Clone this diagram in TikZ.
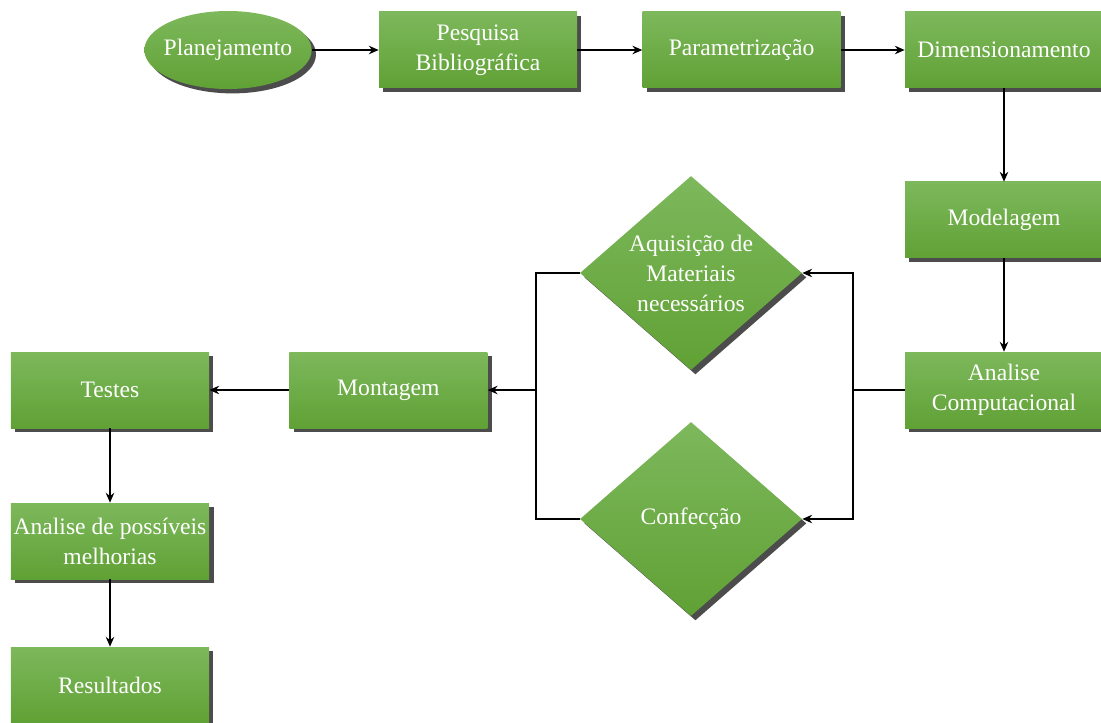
\documentclass[tikz,border=0pt]{standalone}
\usepackage{fontspec}
\setmainfont{Liberation Serif}
\newfontfamily\diagfont{Liberation Serif}
\usepackage{tikz}
\usetikzlibrary{shapes.geometric, arrows.meta, positioning, shadows}
\definecolor{greentop}{RGB}{125,184,92}
\definecolor{greenbot}{RGB}{96,161,53}
\tikzstyle{base} = [text=white, align=center, inner sep=2pt, top color=greentop, bottom color=greenbot, draw=none, drop shadow={shadow xshift=0.11cm, shadow yshift=-0.11cm, fill=black, opacity=0.7}, font=\diagfont\fontsize{16.8pt}{21.3pt}\selectfont]
\tikzstyle{startstop} = [base, ellipse, inner xsep=-7.5pt, minimum width=4.18cm, minimum height=1.95cm]
\tikzstyle{process} = [base, rectangle, minimum width=4.95cm, minimum height=1.9cm]
\tikzstyle{decision} = [base, diamond, aspect=1.14, inner sep=0pt, minimum width=5.55cm, minimum height=4.85cm]
\tikzstyle{arrow} = [line width=1.4pt,-{Stealth[length=7pt,width=6pt]}]
\tikzstyle{joint} = [line width=1.4pt]

\begin{document}
\begin{tikzpicture}[node distance=6.5cm]

        \useasboundingbox (0,0) rectangle (27.525,-18.075);

        \node (plan) [startstop] at (5.7,-1.25) {Planejamento};
        \node (pesq) [process, right of=plan, node distance=6.25cm] {Pesquisa\\Bibliográfica};
        \node (param) [process, right of=pesq, node distance=6.59cm] {Parametrização};
        \node (dimen) [process, right of=param, node distance=6.56cm] {Dimensionamento};
        \node (model) [process, below of=dimen, node distance=4.25cm] {Modelagem};
        \node (analc) [process, below of=model, node distance=4.25cm] {Analise\\Computacional};
        \node (aquis) [decision, left of=analc, node distance=7.825cm, yshift=2.925cm] {Aquisição de\\Materiais\\necessários};
        \node (confec) [decision, left of=analc, node distance=7.825cm, yshift=-3.225cm] {Confecção};
        \node (mont) [process, left of=analc, node distance=15.39cm] {Montagem};
        \node (testes) [process, left of=mont, node distance=6.96cm] {Testes};
        \node (melhor) [process, below of=testes, node distance=3.775cm] {Analise de possíveis\\melhorias};
        \node (result) [process, below of=melhor, node distance=3.6cm] {Resultados};

        \node (split) [coordinate, left of=analc, node distance=3.775cm] {};
        \node (merge) [coordinate, right of=mont, node distance=3.69cm] {};

        \draw [arrow] (plan) -- (pesq);
        \draw [arrow] (pesq) -- (param);
        \draw [arrow] (param) -- (dimen);
        \draw [arrow] (dimen) -- (model);
        \draw [arrow] (model) -- (analc);
        \draw [joint] (analc) -- (split);
        \draw [arrow] (split) |- (aquis);
        \draw [arrow] (split) |- (confec);
        \draw [joint] (aquis) -| (merge);
        \draw [joint] (confec) -| (merge);
        \draw [arrow] (merge) -- (mont);
        \draw [arrow] (mont) -- (testes);
        \draw [arrow] (testes) -- (melhor);
        \draw [arrow] (melhor) -- (result);

    \end{tikzpicture}
\end{document}
